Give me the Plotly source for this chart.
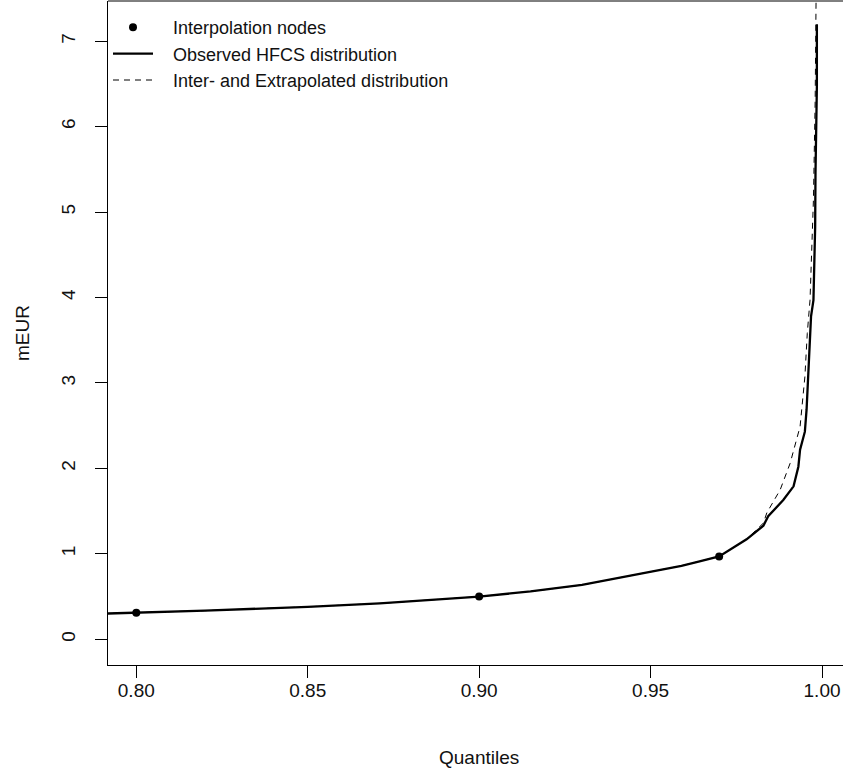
import plotly.graph_objects as go

# Interpolation nodes
node_q = [0.80, 0.90, 0.97]
node_v = [0.31, 0.50, 0.97]

# Observed HFCS distribution (quantile, mEUR)
obs_q = [0.790, 0.800, 0.820, 0.850, 0.871, 0.900, 0.915, 0.930, 0.949, 0.959,
         0.964, 0.970, 0.978, 0.9829, 0.9843, 0.9868, 0.9887, 0.9917, 0.9931,
         0.9936, 0.9950, 0.9955, 0.9960, 0.9968, 0.9975, 0.9978, 0.9980,
         0.9981, 0.9984, 0.9985, 0.9985]
obs_v = [0.30, 0.31, 0.335, 0.38, 0.42, 0.50, 0.56, 0.636, 0.78, 0.86,
         0.91, 0.97, 1.17, 1.33, 1.44, 1.55, 1.63, 1.79, 2.02,
         2.22, 2.43, 2.69, 3.19, 3.78, 3.97, 4.36, 4.83,
         5.46, 6.00, 6.47, 7.20]

# Inter- and extrapolated distribution
ext_q = [0.790, 0.800, 0.820, 0.850, 0.871, 0.900, 0.915, 0.930, 0.949, 0.959,
         0.964, 0.970, 0.978, 0.9829, 0.9839, 0.9878, 0.9907, 0.9936, 0.9950,
         0.9957, 0.9965, 0.9975, 0.9980, 0.9983, 0.9986]
ext_v = [0.30, 0.31, 0.335, 0.38, 0.42, 0.50, 0.56, 0.636, 0.78, 0.86,
         0.91, 0.97, 1.17, 1.36, 1.48, 1.75, 2.06, 2.49, 3.07,
         3.58, 3.97, 5.15, 6.30, 7.47, 9.00]

x_ticks = [0.80, 0.85, 0.90, 0.95, 1.00]
x_ticklabels = ["0.80", "0.85", "0.90", "0.95", "1.00"]
y_ticks = [0, 1, 2, 3, 4, 5, 6, 7]

FONT = "Liberation Sans, Arial, sans-serif"
FS = 19
LFS = 18
PAD = "\u00a0\u00a0\u00a0"

fig = go.Figure()
fig.add_trace(go.Scatter(
    x=ext_q, y=ext_v, mode="lines", name=PAD + "Inter- and Extrapolated distribution",
    line=dict(color="black", width=1, dash="6px,5px"), legendrank=3))
fig.add_trace(go.Scatter(
    x=obs_q, y=obs_v, mode="lines", name=PAD + "Observed HFCS distribution",
    line=dict(color="black", width=2.3), legendrank=2))
fig.add_trace(go.Scatter(
    x=node_q, y=node_v, mode="markers", name=PAD + "Interpolation nodes",
    marker=dict(color="black", size=8), legendrank=1))

fig.update_layout(
    width=843, height=773,
    margin=dict(l=108, r=0, t=1, b=108),
    paper_bgcolor="white", plot_bgcolor="white",
    font=dict(family=FONT, size=FS, color="#111"),
    showlegend=True,
    legend=dict(x=0.0, y=1 - 8 / 664, xanchor="left", yanchor="top",
                bgcolor="rgba(0,0,0,0)", borderwidth=0,
                font=dict(family=FONT, size=LFS, color="#111"),
                tracegroupgap=0, itemwidth=40),
    xaxis=dict(range=[0.79175, 1.00612], showgrid=False, zeroline=False,
               showline=True, linecolor="black", linewidth=1, mirror=False,
               ticks="outside", ticklen=12, tickcolor="black", tickwidth=1,
               tickvals=x_ticks, ticktext=x_ticklabels,
               tickfont=dict(family=FONT, size=FS, color="#111"),
               ticklabelstandoff=-4),
    yaxis=dict(range=[-0.301, 7.471], showgrid=False, zeroline=False,
               showline=True, linecolor="black", linewidth=1, mirror=False,
               ticks="outside", ticklen=12, tickcolor="black", tickwidth=1,
               tickvals=y_ticks, tickangle=-90,
               tickfont=dict(family=FONT, size=FS, color="#111"),
               ticklabelstandoff=12),
    shapes=[dict(type="line", xref="paper", yref="paper", x0=0, x1=1, y0=1, y1=1,
                 line=dict(color="black", width=1))],
    annotations=[
        dict(text="Quantiles", xref="x", yref="paper", x=0.90, y=0,
             yshift=-92, showarrow=False, xanchor="center", yanchor="middle",
             font=dict(family=FONT, size=FS, color="#111")),
        dict(text="mEUR", xref="paper", yref="paper", x=0, y=0.5,
             xshift=-86, showarrow=False, textangle=-90,
             xanchor="center", yanchor="middle",
             font=dict(family=FONT, size=FS, color="#111")),
    ],
)

fig.write_html("out.html")
